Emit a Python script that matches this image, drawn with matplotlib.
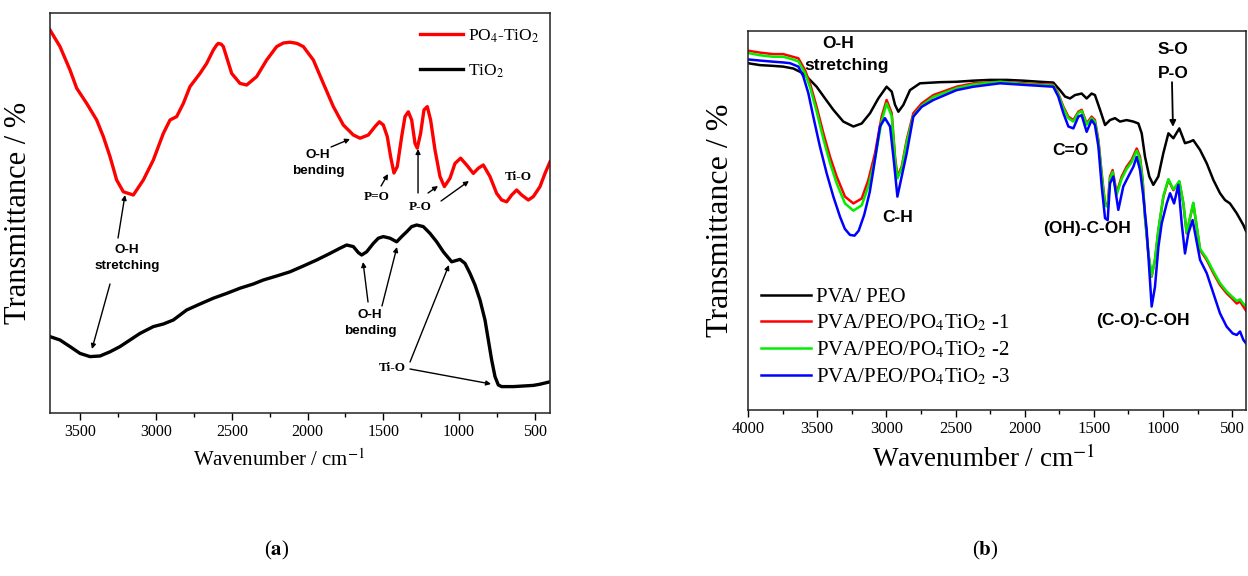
import matplotlib
matplotlib.use("Agg")
import matplotlib.pyplot as plt
from matplotlib.ticker import MultipleLocator

plt.rcParams['font.family'] = ['Liberation Serif', 'DejaVu Serif']
plt.rcParams['mathtext.fontset'] = 'stix'

# ---------------- Panel (a) data ----------------
wn_a_red = [3700, 3634, 3568, 3524, 3458, 3392, 3348, 3304, 3260, 3216, 3150, 3084, 3018, 2952,
            2908, 2864, 2820, 2776, 2710, 2666, 2622, 2600, 2589, 2570, 2556, 2501, 2446, 2402,
            2336, 2270, 2204, 2160, 2116, 2070, 2028, 1962, 1896, 1830, 1764, 1698, 1654, 1599,
            1555, 1526, 1500, 1474, 1452, 1430, 1408, 1379, 1357, 1335, 1313, 1291, 1276, 1254,
            1232, 1210, 1188, 1159, 1126, 1097, 1060, 1027, 990, 950, 906, 873, 840, 796, 752,
            719, 686, 653, 620, 587, 543, 510, 466, 433, 400]
t_a_red = [95.75, 91.6, 85.75, 81.2, 77.4, 73.25, 69.1, 64.1, 58.25, 55.3, 54.5, 58.25, 63.25,
           69.9, 73.25, 74.1, 77.4, 81.6, 84.9, 87.4, 90.75, 92.0, 92.4, 92.2, 91.6, 84.9, 82.4,
           82.0, 84.1, 88.25, 91.6, 92.5, 92.7, 92.4, 91.6, 88.25, 82.4, 76.6, 72.0, 69.5, 68.7,
           69.5, 71.6, 72.8, 72.0, 69.1, 64.1, 60.0, 61.6, 69.1, 74.1, 75.3, 73.25, 67.4, 66.2,
           69.9, 75.75, 76.6, 73.25, 65.75, 59.1, 56.6, 58.7, 62.4, 63.7, 62.0, 59.9, 61.2, 62.0,
           59.1, 54.9, 53.25, 52.8, 54.5, 55.75, 54.5, 53.25, 54.1, 56.6, 59.9, 62.8]

wn_a_black = [3700, 3634, 3568, 3502, 3436, 3370, 3304, 3238, 3172, 3106, 3018, 2952, 2886, 2798,
              2710, 2622, 2534, 2446, 2358, 2292, 2204, 2116, 2028, 1940, 1852, 1786, 1742, 1698,
              1665, 1643, 1610, 1566, 1533, 1500, 1456, 1412, 1379, 1346, 1313, 1280, 1236, 1192,
              1148, 1104, 1049, 994, 961, 928, 895, 862, 829, 807, 785, 763, 741, 719, 642, 576,
              510, 466, 400]
t_a_black = [19.1, 18.25, 16.6, 14.9, 14.1, 14.25, 15.3, 16.6, 18.25, 19.9, 21.6, 22.25, 23.25,
             25.75, 27.25, 28.7, 29.9, 31.2, 32.25, 33.25, 34.25, 35.3, 36.75, 38.25, 39.9, 41.2,
             42.0, 41.6, 40.1, 39.5, 40.3, 42.4, 43.7, 44.1, 43.7, 42.8, 44.1, 45.3, 46.6, 47.0,
             46.6, 44.9, 42.8, 40.3, 37.8, 38.4, 37.4, 34.9, 32.0, 28.25, 23.25, 18.25, 13.25, 9.1,
             7.0, 6.6, 6.6, 6.75, 6.9, 7.2, 7.8]

labels_a = ['PO$_4$-TiO$_2$', 'TiO$_2$']

# ---------------- Panel (b) data ----------------
wn_b_black = [4000, 3913, 3817, 3745, 3672, 3600, 3552, 3504, 3443, 3383, 3311, 3238, 3178, 3118,
              3058, 2998, 2961, 2937, 2913, 2877, 2829, 2757, 2612, 2492, 2371, 2251, 2130, 2010,
              1889, 1793, 1745, 1708, 1672, 1636, 1588, 1552, 1516, 1492, 1455, 1419, 1383, 1347,
              1311, 1263, 1214, 1178, 1154, 1130, 1099, 1070, 1034, 998, 961, 925, 882, 841, 805,
              781, 732, 684, 636, 588, 552, 516, 467, 419, 400]
t_b_black = [91.5, 91.0, 90.8, 90.6, 90.1, 88.8, 87.1, 85.3, 82.2, 79.2, 76.1, 74.8, 75.6, 78.3,
             82.2, 85.3, 84.0, 80.5, 78.7, 80.5, 84.4, 86.2, 86.5, 86.6, 86.9, 87.1, 87.1, 86.9,
             86.6, 86.4, 84.4, 82.7, 82.2, 83.1, 83.5, 82.2, 83.5, 83.1, 79.2, 75.2, 76.5, 77.0,
             76.1, 76.5, 76.1, 75.6, 73.0, 66.8, 61.6, 59.4, 61.6, 67.7, 73.0, 71.7, 74.3, 70.4,
             70.8, 71.2, 68.6, 65.1, 60.7, 57.2, 55.4, 54.5, 51.9, 48.8, 47.2]

wn_b_rg = [4000, 3913, 3817, 3745, 3696, 3636, 3588, 3552, 3504, 3455, 3407, 3359, 3299, 3238,
           3178, 3130, 3082, 3034, 2998, 2961, 2937, 2920, 2889, 2853, 2805, 2744, 2660, 2492,
           2371, 2178, 2010, 1793, 1757, 1720, 1684, 1648, 1612, 1588, 1552, 1516, 1492, 1467,
           1443, 1419, 1400, 1383, 1364, 1335, 1299, 1263, 1227, 1190, 1166, 1147, 1130, 1106,
           1082, 1058, 1033, 997, 961, 925, 882, 853, 829, 781, 732, 684, 636, 588, 540, 503,
           467, 443, 419, 400]
t_b_red = [94.8, 94.3, 93.9, 93.9, 93.4, 92.8, 89.7, 86.2, 80.0, 73.0, 66.8, 61.6, 56.3, 54.5,
           55.8, 60.7, 67.7, 77.4, 81.8, 78.3, 66.8, 61.6, 64.2, 71.2, 78.3, 80.9, 83.1, 85.3,
           86.2, 86.6, 86.2, 85.8, 83.5, 80.0, 77.4, 76.5, 78.7, 79.2, 75.6, 77.4, 76.5, 71.2,
           62.4, 54.5, 54.1, 61.6, 63.3, 57.2, 61.6, 64.2, 66.0, 69.0, 66.8, 60.7, 51.0, 41.3,
           35.2, 39.6, 47.5, 56.3, 60.7, 58.0, 60.2, 54.5, 46.6, 54.5, 42.2, 39.6, 36.1, 33.0,
           30.8, 29.5, 28.1, 28.6, 27.3, 26.2]
t_b_green = [94.2, 93.6, 93.2, 93.2, 92.7, 92.0, 88.9, 85.2, 78.8, 71.5, 65.2, 59.8, 54.5, 52.6,
             54.0, 59.0, 66.2, 76.2, 80.9, 77.5, 66.0, 61.1, 63.8, 70.6, 77.6, 80.3, 82.6, 84.9,
             85.9, 86.6, 86.0, 85.6, 83.3, 79.6, 77.0, 76.1, 78.4, 78.9, 75.3, 77.0, 76.1, 70.8,
             61.8, 54.0, 53.6, 61.0, 62.8, 56.8, 61.0, 63.6, 65.4, 68.4, 66.2, 60.2, 50.6, 41.5,
             35.4, 39.8, 47.7, 56.5, 60.9, 58.2, 60.4, 54.7, 46.8, 54.7, 42.5, 40.0, 36.6, 33.5,
             31.3, 30.0, 28.8, 29.2, 28.0, 27.5]

wn_b_blue = [4000, 3913, 3817, 3745, 3696, 3636, 3600, 3564, 3528, 3480, 3431, 3383, 3335, 3300,
             3263, 3230, 3200, 3160, 3120, 3094, 3046, 3010, 2973, 2944, 2920, 2889, 2853, 2805,
             2744, 2660, 2492, 2371, 2178, 2010, 1793, 1757, 1720, 1684, 1648, 1612, 1588, 1552,
             1516, 1492, 1467, 1443, 1419, 1400, 1383, 1359, 1323, 1287, 1251, 1214, 1190, 1166,
             1142, 1118, 1099, 1082, 1058, 1033, 1009, 973, 949, 920, 889, 865, 841, 817, 786, 732,
             684, 636, 588, 540, 496, 467, 443, 419, 400]
t_b_blue = [92.5, 92.2, 91.9, 91.7, 91.5, 90.6, 88.0, 83.6, 77.4, 69.5, 62.4, 56.3, 51.0, 47.8,
            46.2, 46.0, 47.3, 51.5, 57.5, 63.3, 74.8, 77.0, 74.8, 65.1, 56.3, 61.6, 67.7, 77.4,
            80.0, 81.8, 84.4, 85.3, 86.2, 85.8, 85.3, 82.7, 78.3, 74.8, 74.3, 77.4, 77.8, 73.4,
            76.5, 75.2, 69.5, 59.0, 50.6, 50.1, 59.8, 61.6, 52.8, 59.0, 61.6, 64.2, 66.8, 63.3,
            56.3, 47.5, 36.9, 27.3, 32.5, 43.1, 49.3, 54.5, 57.2, 54.5, 59.4, 49.3, 41.3, 46.6,
            50.1, 39.6, 36.1, 30.8, 25.5, 22.0, 20.2, 19.8, 20.7, 18.5, 17.6]

labels_b = ['PVA/ PEO', 'PVA/PEO/PO$_4$TiO$_2$ -1', 'PVA/PEO/PO$_4$TiO$_2$ -2',
            'PVA/PEO/PO$_4$TiO$_2$ -3']
colors_b = ['black', '#ff0000', '#00ee00', '#0000ff']

# ---------------- Figure ----------------
fig = plt.figure(figsize=(12.48, 5.76), dpi=100)
W, H = 1248.0, 576.0
ax1 = fig.add_axes([50 / W, 1 - 413 / H, 500 / W, 400 / H])
ax2 = fig.add_axes([748 / W, 1 - 410 / H, 498 / W, 379 / H])

for ax in (ax1, ax2):
    for sp in ax.spines.values():
        sp.set_linewidth(1.1)
        sp.set_color('#222222')
    ax.set_yticks([])
    ax.xaxis.set_major_locator(MultipleLocator(500))
    ax.xaxis.set_minor_locator(MultipleLocator(250))
    ax.tick_params(axis='x', which='major', direction='out', length=5, width=1.0, pad=3)
    ax.tick_params(axis='x', which='minor', direction='out', length=3, width=1.0)

# Panel (a)
ax1.plot(wn_a_red, t_a_red, color='#ff0000', lw=2.4, label=labels_a[0], solid_joinstyle='round')
ax1.plot(wn_a_black, t_a_black, color='black', lw=2.4, label=labels_a[1], solid_joinstyle='round')
ax1.set_xlim(3700, 400)
ax1.set_ylim(0, 100)
ax1.tick_params(axis='x', labelsize=11.5)
ax1.set_xlabel('Wavenumber / cm$^{-1}$', fontsize=15)
ax1.xaxis.set_label_coords((279 - 50) / 500, -0.09)
ax1.set_ylabel('Transmittance / %', fontsize=22)
ax1.yaxis.set_label_coords(-0.034, 0.5)
ax1.legend(loc='upper right', frameon=False, fontsize=12.5, handlelength=2.5,
           handletextpad=0.3, labelspacing=1.0, bbox_to_anchor=(1.0, 0.99),
           borderaxespad=0.2)

sans = ['Liberation Sans', 'DejaVu Sans']
serif = ['Liberation Serif', 'DejaVu Serif']
arw = dict(arrowstyle='-|>', color='black', lw=1.0, mutation_scale=7, shrinkA=0, shrinkB=0)

ax1.text(3192, 38.75, 'O-H\nstretching', family=sans, weight='bold', fontsize=9.7,
         ha='center', va='center', linespacing=1.4)
ax1.annotate('', xy=(3205, 54.5), xytext=(3251, 43.75), arrowprops=arw)
ax1.annotate('', xy=(3423, 16), xytext=(3304, 32.25), arrowprops=arw)

ax1.text(1931, 62.5, 'O-H\nbending', family=sans, weight='bold', fontsize=9.7,
         ha='center', va='center', linespacing=1.4)
ax1.annotate('', xy=(1720, 68.5), xytext=(1845, 66.5), arrowprops=arw)

ax1.text(1542, 54.0, 'P=O', family=serif, weight='bold', fontsize=9.5, ha='center', va='center')
ax1.annotate('', xy=(1469, 59.75), xytext=(1515, 56.75), arrowprops=arw)

ax1.text(1258, 51.5, 'P-O', family=serif, weight='bold', fontsize=9.5, ha='center', va='center')
ax1.annotate('', xy=(1271, 66), xytext=(1271, 55), arrowprops=arw)
ax1.annotate('', xy=(1139, 56.75), xytext=(1205, 55), arrowprops=arw)
ax1.annotate('', xy=(935, 58), xytext=(1119, 53), arrowprops=arw)

ax1.text(611, 59, 'Ti-O', family=serif, weight='bold', fontsize=9.5, ha='center', va='center')

ax1.text(1588, 22.5, 'O-H\nbending', family=sans, weight='bold', fontsize=9.7,
         ha='center', va='center', linespacing=1.4)
ax1.annotate('', xy=(1634, 37.75), xytext=(1601, 27.75), arrowprops=arw)
ax1.annotate('', xy=(1410, 41.5), xytext=(1509, 26.75), arrowprops=arw)

ax1.text(1443, 11.25, 'Ti-O', family=serif, weight='bold', fontsize=9.5, ha='center', va='center')
ax1.annotate('', xy=(1067, 37), xytext=(1324, 12.75), arrowprops=arw)
ax1.annotate('', xy=(789, 7.25), xytext=(1324, 11), arrowprops=arw)

# Panel (b)
ax2.plot(wn_b_black, t_b_black, color=colors_b[0], lw=1.8, label=labels_b[0])
ax2.plot(wn_b_rg, t_b_red, color=colors_b[1], lw=1.8, label=labels_b[1])
ax2.plot(wn_b_rg, t_b_green, color=colors_b[2], lw=1.8, label=labels_b[2])
ax2.plot(wn_b_blue, t_b_blue, color=colors_b[3], lw=1.8, label=labels_b[3])
ax2.set_xlim(4000, 400)
ax2.set_ylim(0, 100)
ax2.tick_params(axis='x', labelsize=12)
ax2.set_xlabel('Wavenumber / cm$^{-1}$', fontsize=19.5)
ax2.xaxis.set_label_coords((984 - 748) / 498, -0.093)
ax2.set_ylabel('Transmittance / %', fontsize=23)
ax2.yaxis.set_label_coords(-0.026, 0.5)
ax2.legend(loc='lower left', frameon=False, fontsize=15, handlelength=2.4,
           handletextpad=0.25, labelspacing=0.3, bbox_to_anchor=(0.0, 0.026),
           borderaxespad=0.2)

ax2.text(3349, 96.8, 'O-H', family=sans, weight='bold', fontsize=12.5, ha='center', va='center')
ax2.text(3284, 91.0, 'stretching', family=sans, weight='bold', fontsize=12.5, ha='center', va='center')
ax2.text(2916, 50.9, 'C-H', family=sans, weight='bold', fontsize=12.5, ha='center', va='center')
ax2.text(1672, 68.6, 'C=O', family=sans, weight='bold', fontsize=12.5, ha='center', va='center')
ax2.text(1549, 48.0, '(OH)-C-OH', family=sans, weight='bold', fontsize=12.5, ha='center', va='center')
ax2.text(1145, 23.7, '(C-O)-C-OH', family=sans, weight='bold', fontsize=12.5, ha='center', va='center')
ax2.text(928, 95.0, 'S-O', family=sans, weight='bold', fontsize=12.5, ha='center', va='center')
ax2.text(928, 88.9, 'P-O', family=sans, weight='bold', fontsize=12.5, ha='center', va='center')
ax2.annotate('', xy=(928, 74.7), xytext=(935, 86.5),
             arrowprops=dict(arrowstyle='-|>', color='black', lw=1.3, mutation_scale=9,
                             shrinkA=0, shrinkB=0))

# captions
fig.text(277 / W, 1 - 550 / H, '($\\mathbf{a}$)', fontsize=15, ha='center', va='center')
fig.text(985 / W, 1 - 550 / H, '($\\mathbf{b}$)', fontsize=15, ha='center', va='center')

fig.savefig('out.png', dpi=100)
